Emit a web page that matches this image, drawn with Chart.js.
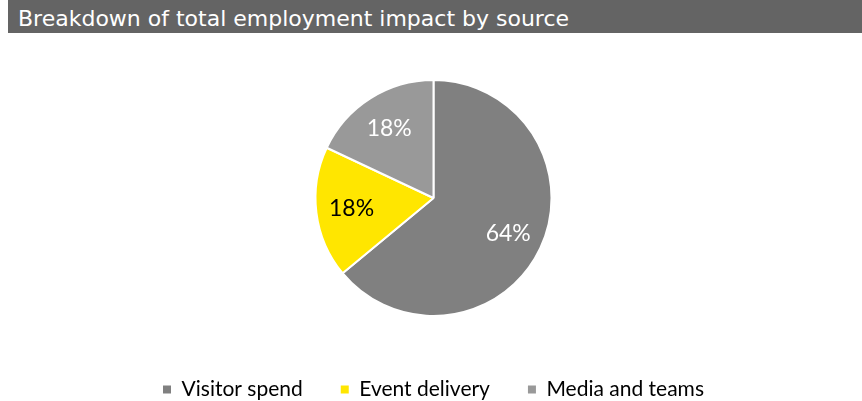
<!DOCTYPE html>
<html>
<head>
<meta charset="utf-8">
<script src="https://cdn.jsdelivr.net/npm/chart.js@4/dist/chart.umd.min.js"></script>
<style>
  html, body { margin: 0; padding: 0; background: #fff; }
  #wrap { position: relative; width: 862px; height: 401px; }
  #titleBar {
    position: absolute; left: 8px; top: 0; width: 854px; height: 33px;
    background: #646464; color: #fff;
    font-family: "DejaVu Sans", sans-serif; font-size: 22px;
    line-height: 37px; padding-left: 10px; box-sizing: border-box;
    white-space: nowrap; overflow: hidden;
  }
  #chart { position: absolute; left: 0; top: 0; }
</style>
</head>
<body>
<div id="wrap">
  <canvas id="chart" width="862" height="401"></canvas>
  <div id="titleBar">Breakdown of total employment impact by source</div>
</div>
<script>
// Employment impact split by source (percent of total)
const categories = ['Visitor spend', 'Event delivery', 'Media and teams'];
const shares = [64, 18, 18];
const sliceColors = ['#808080', '#FFE600', '#999999'];
const labelColors = ['#ffffff', '#000000', '#ffffff'];

// percentage text inside each slice, placed at ~70% of the radius
const sliceLabels = {
  id: 'sliceLabels',
  afterDatasetsDraw(chart) {
    const { ctx } = chart;
    const meta = chart.getDatasetMeta(0);
    ctx.save();
    ctx.font = '23px Lato, "Liberation Sans", sans-serif';
    ctx.textAlign = 'center';
    ctx.textBaseline = 'middle';
    meta.data.forEach((arc, i) => {
      const p = arc.getProps(['x', 'y', 'startAngle', 'endAngle', 'outerRadius'], true);
      const mid = (p.startAngle + p.endAngle) / 2;
      const r = p.outerRadius * 0.7;
      ctx.fillStyle = labelColors[i];
      ctx.fillText(shares[i] + '%', p.x + Math.cos(mid) * r, p.y + Math.sin(mid) * r);
    });
    ctx.restore();
  }
};

const defaultLabels = Chart.overrides.pie.plugins.legend.labels.generateLabels;

const chart = new Chart(document.getElementById('chart'), {
  type: 'pie',
  data: {
    labels: categories,
    datasets: [{
      data: shares,
      backgroundColor: sliceColors,
      borderColor: '#ffffff',
      borderWidth: 2
    }]
  },
  options: {
    responsive: false,
    animation: false,
    layout: { padding: { top: 79, bottom: 0, left: 5, right: 0 } },
    plugins: {
      tooltip: { enabled: false },
      legend: {
        position: 'bottom',
        // empty title only pushes the legend row further down
        title: { display: true, text: '', padding: 6, font: { size: 10 } },
        labels: {
          boxWidth: 8,
          boxHeight: 8,
          padding: 38,
          color: '#000',
          font: { family: 'Lato, "Liberation Sans", sans-serif', size: 21 },
          // solid swatches, without the slices' white outline
          generateLabels(c) {
            return defaultLabels(c).map(item => ({ ...item, lineWidth: 0 }));
          }
        }
      }
    }
  },
  plugins: [sliceLabels]
});

// give a bit of the legend's bottom space back to the pie
const baseFit = chart.legend.fit;
chart.legend.fit = function () {
  baseFit.call(this);
  this.height -= 9;
};
chart.update();
</script>
</body>
</html>
